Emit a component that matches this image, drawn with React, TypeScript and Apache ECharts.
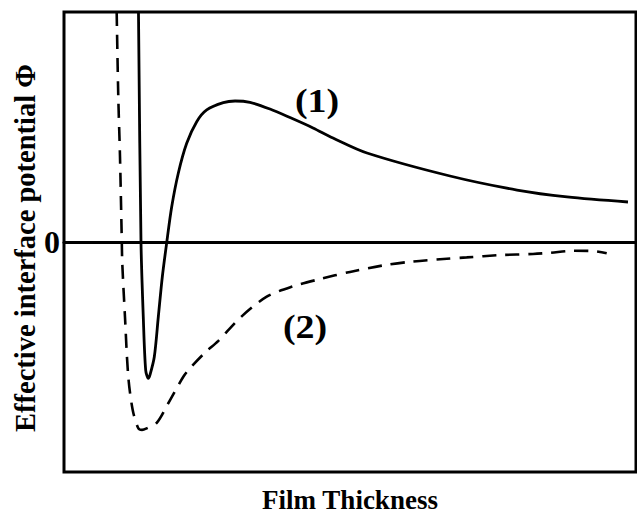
import React, { useEffect, useRef } from "react";
import * as echarts from "echarts";

// Curve (1): solid
const thicknessSolid = [13.02, 13.46, 13.86, 14.28, 14.74, 15.03, 15.79, 16.49, 17.19, 17.95, 18.83, 19.98, 21.45, 23.2, 24.95, 27.85, 29.9, 32.52, 36.01, 39.51, 43.53, 47.03, 52.97, 67.48, 79.2, 87.94, 98.6];
const potentialSolid = [10.0, 0.0, -3.25, -5.57, -5.93, -5.78, -4.99, -3.25, -1.51, -0.04, 1.53, 2.99, 4.29, 5.23, 5.74, 6.06, 6.13, 6.07, 5.78, 5.41, 4.96, 4.52, 3.87, 2.87, 2.26, 1.96, 1.74];

// Curve (2): dashed
const thicknessDashed = [9.21, 9.49, 9.79, 10.09, 10.19, 10.66, 11.24, 12.01, 12.99, 13.64, 14.46, 16.21, 18.23, 20.86, 22.03, 24.65, 26.98, 30.77, 35.44, 40.03, 44.76, 50.0, 55.77, 60.49, 65.73, 70.4, 76.22, 81.99, 84.97, 88.99, 92.48, 94.88];
const potentialDashed = [10.0, 6.32, 3.71, 0.23, -0.93, -3.25, -5.86, -7.3, -8.1, -8.17, -8.1, -7.86, -7.01, -5.86, -5.49, -4.81, -4.3, -3.3, -2.38, -1.93, -1.61, -1.3, -1.02, -0.86, -0.75, -0.67, -0.57, -0.52, -0.47, -0.38, -0.39, -0.49];

const yTickLabels = ["", "0", ""];
const xAxisTitle = "Film Thickness";
const yAxisTitle = "Effective interface potential Φ";
const curveLabels = ["(1)", "(2)"];

const FONT = "'Liberation Serif', 'Times New Roman', serif";

export default function App() {
  const ref = useRef<HTMLDivElement>(null);
  useEffect(() => {
    if (!ref.current) return;
    const chart = echarts.init(ref.current, null, { renderer: "svg" });
    const solidData = thicknessSolid.map((x, i) => [x, potentialSolid[i]]);
    const dashedData = thicknessDashed.map((x, i) => [x, potentialDashed[i]]);
    chart.setOption({
      animation: false,
      backgroundColor: "#fff",
      grid: {
        left: 64,
        right: 1,
        top: 12,
        bottom: 43,
        show: true,
        borderColor: "#000",
        borderWidth: 3,
        backgroundColor: "transparent",
      },
      xAxis: {
        type: "value",
        min: 0,
        max: 100,
        axisLine: { show: true, onZero: true, lineStyle: { color: "#000", width: 3 } },
        axisTick: { show: false },
        axisLabel: { show: false },
        splitLine: { show: false },
      },
      yAxis: {
        type: "value",
        min: -10,
        max: 10,
        interval: 10,
        axisLine: { show: false },
        axisTick: { show: false },
        splitLine: { show: false },
        axisLabel: {
          show: true,
          margin: 4,
          color: "#000",
          fontFamily: FONT,
          fontWeight: "bold",
          fontSize: 32,
          formatter: (v: number) => yTickLabels[Math.round((v + 10) / 10)] ?? "",
        },
      },
      series: [
        {
          type: "line",
          data: solidData,
          showSymbol: false,
          smooth: 0.3,
          clip: true,
          lineStyle: { color: "#000", width: 2.8, type: "solid" },
        },
        {
          type: "line",
          data: dashedData,
          showSymbol: false,
          smooth: 0.3,
          clip: true,
          lineStyle: { color: "#000", width: 2.6, type: [14, 9] },
        },
      ],
      graphic: [
        {
          type: "text",
          x: 350,
          y: 500,
          style: {
            text: xAxisTitle,
            fill: "#000",
            font: `bold 27px ${FONT}`,
            align: "center",
            verticalAlign: "middle",
          },
        },
        {
          type: "text",
          x: 25,
          y: 248,
          rotation: Math.PI / 2,
          scaleY: 1.05,
          style: {
            text: yAxisTitle,
            fill: "#000",
            font: `bold 28.5px ${FONT}`,
            align: "center",
            verticalAlign: "middle",
          },
        },
        {
          type: "text",
          x: 317,
          y: 101,
          scaleX: 1.15,
          style: {
            text: curveLabels[0],
            fill: "#000",
            font: `bold 33px ${FONT}`,
            align: "center",
            verticalAlign: "middle",
          },
        },
        {
          type: "text",
          x: 305,
          y: 327,
          scaleX: 1.15,
          style: {
            text: curveLabels[1],
            fill: "#000",
            font: `bold 33px ${FONT}`,
            align: "center",
            verticalAlign: "middle",
          },
        },
      ],
    });
    return () => chart.dispose();
  }, []);
  return (
    <div
      ref={ref}
      style={{ position: "absolute", left: 0, top: 0, width: 637, height: 515 }}
    />
  );
}
